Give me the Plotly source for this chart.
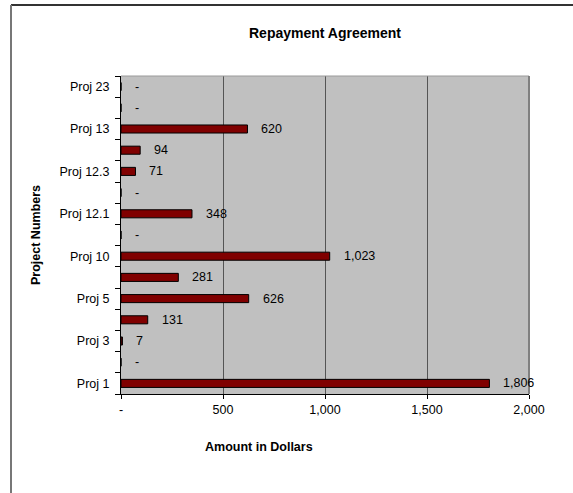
import plotly.graph_objects as go

# Repayment agreement amounts per project (bottom to top)
projects = ["Proj 1", "", "Proj 3", "", "Proj 5", "", "Proj 10", "",
            "Proj 12.1", "", "Proj 12.3", "", "Proj 13", "", "Proj 23"]
amounts = [1806, 0, 7, 131, 626, 281, 1023, 0, 348, 0, 71, 94, 620, 0, 0]

x_ticks = [0, 500, 1000, 1500, 2000]
x_tick_text = ["-", "500", "1,000", "1,500", "2,000"]

FONT = "Liberation Sans, Arial, sans-serif"
BAR_COLOR = "#800000"
PLOT_BG = "#c0c0c0"


def fmt(v):
    # accounting style: thousands separator, zero shown as a dash
    return "-" if v == 0 else f"{v:,.0f}"


# one category slot per project row; only some rows carry a label
slots = [str(i) for i in range(len(projects))]

fig = go.Figure()
fig.add_trace(go.Bar(
    x=amounts, y=slots, orientation="h", width=0.38,
    marker=dict(color=BAR_COLOR, line=dict(color="black", width=1)),
    hoverinfo="skip",
))

# value labels to the right of each bar
for s, v in zip(slots, amounts):
    fig.add_annotation(
        x=v, y=s, text=fmt(v), showarrow=False, xanchor="left",
        yanchor="middle", xshift=12,
        font=dict(family=FONT, size=12.5, color="black"),
    )

fig.update_layout(
    width=573, height=493,
    margin=dict(l=121, r=44, t=76, b=99),
    paper_bgcolor="white",
    plot_bgcolor=PLOT_BG,
    showlegend=False,
    font=dict(family=FONT, size=12.5, color="black"),
    title=dict(
        text="<b>Repayment Agreement</b>", x=(121 + 529) / 2 / 573,
        xanchor="center", y=1 - 33 / 493, yanchor="middle",
        font=dict(family=FONT, size=14, color="black"),
    ),
    xaxis=dict(
        range=[0, 2000], tickvals=x_ticks, ticktext=x_tick_text,
        showgrid=True, gridcolor="#555555", gridwidth=1,
        ticks="outside", ticklen=4, tickcolor="black",
        showline=True, linecolor="black", linewidth=1,
        zeroline=False, tickfont=dict(size=12.5),
    ),
    yaxis=dict(
        type="category", categoryorder="array", categoryarray=slots,
        range=[-0.5, len(slots) - 0.5],
        tickmode="array", tickvals=slots, ticktext=projects,
        tickson="boundaries", ticks="outside", ticklen=5,
        tickcolor="black", tickwidth=1, ticklabelstandoff=8,
        showgrid=False, zeroline=False,
        showline=True, linecolor="black", linewidth=1,
        tickfont=dict(size=12.5),
    ),
)

# axis titles
fig.add_annotation(
    text="<b>Project Numbers</b>", xref="paper", yref="paper",
    x=(36 - 121) / 408, y=0.5, textangle=-90, showarrow=False,
    xanchor="center", yanchor="middle",
    font=dict(family=FONT, size=12.5, color="black"),
)
fig.add_annotation(
    text="<b>Amount in Dollars</b>", xref="paper", yref="paper",
    x=(259 - 121) / 408, y=(394 - 447) / 318, showarrow=False,
    xanchor="center", yanchor="middle",
    font=dict(family=FONT, size=12.5, color="black"),
)

# plot-area border (top and right)
fig.add_shape(type="line", xref="paper", yref="paper", x0=0, x1=1, y0=1, y1=1,
              line=dict(color="#9a9a9a", width=1), layer="above")
fig.add_shape(type="line", xref="paper", yref="paper", x0=1, x1=1, y0=0, y1=1,
              line=dict(color="#808080", width=2), layer="above")

# chart frame (top and left edges)
frame_x = (11 - 121) / 408
frame_y = (394 - 5) / 318
fig.add_shape(type="line", xref="paper", yref="paper",
              x0=frame_x, x1=1.2, y0=frame_y, y1=frame_y,
              line=dict(color="#333333", width=2), layer="above")
fig.add_shape(type="line", xref="paper", yref="paper",
              x0=frame_x, x1=frame_x, y0=-0.4, y1=frame_y,
              line=dict(color="#777777", width=2), layer="above")

fig.write_html("out.html")
